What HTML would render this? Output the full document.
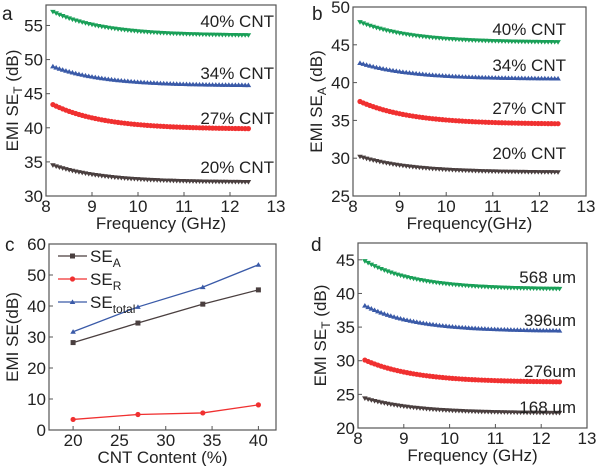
<!DOCTYPE html>
<html><head><meta charset="utf-8"><style>
html,body{margin:0;padding:0;background:#fff;}
svg{display:block;font-family:"Liberation Sans",Arial,sans-serif;}
</style></head><body>
<svg id="s" width="600" height="466" viewBox="0 0 600 466" xmlns="http://www.w3.org/2000/svg"></svg>
<script>
const S=document.getElementById('s');let h='';
function T(x,y,t,o){o=o||{};h+=`<text x="${x}" y="${y}" font-size="${o.fs||17}" text-anchor="${o.a||'middle'}" fill="#222">${t}</text>`;}
function panel(p){
 const X=v=>p.x0+(v-p.xmin)/(p.xmax-p.xmin)*(p.x1-p.x0);
 const Y=v=>p.y1-(v-p.ymin)/(p.ymax-p.ymin)*(p.y1-p.y0);
 h+=`<rect x="${p.x0}" y="${p.y0}" width="${p.x1-p.x0}" height="${p.y1-p.y0}" fill="none" stroke="#555" stroke-width="1.2"/>`;
 p.xt.forEach(v=>{h+=`<line x1="${X(v)}" y1="${p.y1}" x2="${X(v)}" y2="${p.y1-4}" stroke="#555"/>`;T(X(v),p.y1+16,v);});
 p.yt.forEach(v=>{h+=`<line x1="${p.x0}" y1="${Y(v)}" x2="${p.x0+4}" y2="${Y(v)}" stroke="#555"/>`;T(p.x0-3,Y(v)+6,v,{a:'end'});});
 T((p.x0+p.x1)/2,p.y1+33,p.xl);
 h+=`<text x="${p.yx}" y="${(p.y0+p.y1)/2}" font-size="17" text-anchor="middle" fill="#222" transform="rotate(-90 ${p.yx} ${(p.y0+p.y1)/2})">${p.yl}</text>`;
 T(p.lx,p.ly,p.letter,{a:'start',fs:19});
 return [X,Y];
}
function mk(x,y,sh,c){
 if(sh=='c')h+=`<circle cx="${x}" cy="${y}" r="2.6" fill="${c}"/>`;
 else if(sh=='d')h+=`<path d="M${x-2.8} ${y-2} L${x+2.8} ${y-2} L${x} ${y+2.6}Z" fill="${c}"/>`;
 else h+=`<path d="M${x-2.8} ${y+2} L${x+2.8} ${y+2} L${x} ${y-2.6}Z" fill="${c}"/>`;
}
function curve(XY,a,b,sh,c){const [X,Y]=XY;let pts=[];
 for(let i=0;i<=60;i++){const f=8.15+i*(12.4-8.15)/60;const v=b+(a-b)*Math.exp(-(f-8.15)/1.1);pts.push([X(f),Y(v)]);}
 h+=`<polyline points="${pts.map(q=>q.join(',')).join(' ')}" fill="none" stroke="${c}" stroke-width="1.2"/>`;
 pts.forEach(q=>mk(q[0],q[1],sh,c));}
const G='#1aa058',B='#3a5aa8',R='#f03030',K='#4a3f3f';
let A=panel({x0:46,x1:276,y0:5,y1:196,xmin:8,xmax:13,ymin:30,ymax:58,xt:[8,9,10,11,12,13],yt:[30,35,40,45,50,55],xl:'Frequency (GHz)',yl:'EMI SE<tspan font-size="12" dy="4">T</tspan><tspan dy="-4"> (dB)</tspan>',yx:18,lx:2,ly:20,letter:'a'});
curve(A,57,53.5,'d',G);curve(A,49,46.2,'u',B);curve(A,43.4,39.8,'c',R);curve(A,34.5,32,'d',K);
[['40% CNT',27],['34% CNT',79],['27% CNT',124],['20% CNT',173]].forEach(q=>T(274,q[1],q[0],{a:'end',fs:17}));
let Bp=panel({x0:353,x1:586,y0:7,y1:196,xmin:8,xmax:13,ymin:25,ymax:50,xt:[8,9,10,11,12,13],yt:[25,30,35,40,45,50],xl:'Frequency(GHz)',yl:'EMI SE<tspan font-size="12" dy="4">A</tspan><tspan dy="-4"> (dB)</tspan>',yx:322,lx:312,ly:20,letter:'b'});
curve(Bp,48,45.3,'d',G);curve(Bp,42.6,40.5,'u',B);curve(Bp,37.5,34.5,'c',R);curve(Bp,30.2,28.1,'d',K);
[['40% CNT',35],['34% CNT',71],['27% CNT',114],['20% CNT',159]].forEach(q=>T(566,q[1],q[0],{a:'end',fs:17}));
let C=panel({x0:49,x1:276,y0:244,y1:430,xmin:17.4,xmax:41.9,ymin:0,ymax:60,xt:[20,25,30,35,40],yt:[0,10,20,30,40,50,60],xl:'CNT Content (%)',yl:'EMI SE(dB)',yx:18,lx:5,ly:251,letter:'c'});
function ser(XY,d,sh,c){const [X,Y]=XY;const x=[20,27,34,40];const pts=d.map((v,i)=>[X(x[i]),Y(v)]);
 h+=`<polyline points="${pts.map(q=>q.join(',')).join(' ')}" fill="none" stroke="${c}" stroke-width="1.3"/>`;
 pts.forEach(q=>{if(sh=='s')h+=`<rect x="${q[0]-2.5}" y="${q[1]-2.5}" width="5" height="5" fill="${c}"/>`;else mk(q[0],q[1],sh,c);});}
ser(C,[28.2,34.5,40.6,45.2],'s',K);ser(C,[3.4,5,5.5,8.1],'c',R);ser(C,[31.7,39.7,46.1,53.3],'u',B);
[[256,K,'s','A'],[279,R,'c','R'],[302,B,'u','total']].forEach(q=>{h+=`<line x1="58" y1="${q[0]}" x2="87" y2="${q[0]}" stroke="${q[1]}" stroke-width="1.3"/>`;
 if(q[2]=='s')h+=`<rect x="70" y="${q[0]-2.5}" width="5" height="5" fill="${q[1]}"/>`;else mk(72.5,q[0],q[2],q[1]);
 h+=`<text x="90" y="${q[0]+6}" font-size="17" fill="#222">SE<tspan font-size="12" dy="5">${q[3]}</tspan></text>`;});
let D=panel({x0:358,x1:587,y0:243,y1:428,xmin:8,xmax:13,ymin:20,ymax:47.5,xt:[8,9,10,11,12,13],yt:[20,25,30,35,40,45],xl:'Frequency (GHz)',yl:'EMI SE<tspan font-size="12" dy="4">T</tspan><tspan dy="-4"> (dB)</tspan>',yx:326,lx:311,ly:251,letter:'d'});
curve(D,44.8,40.6,'d',G);curve(D,38.2,34.4,'u',B);curve(D,30.1,26.8,'c',R);curve(D,24.4,22.2,'d',K);
[['568 um',283],['396um',326],['276um',377],['168 um',413]].forEach(q=>T(576,q[1],q[0],{a:'end',fs:17}));
S.innerHTML=h;
</script>
</body></html>
